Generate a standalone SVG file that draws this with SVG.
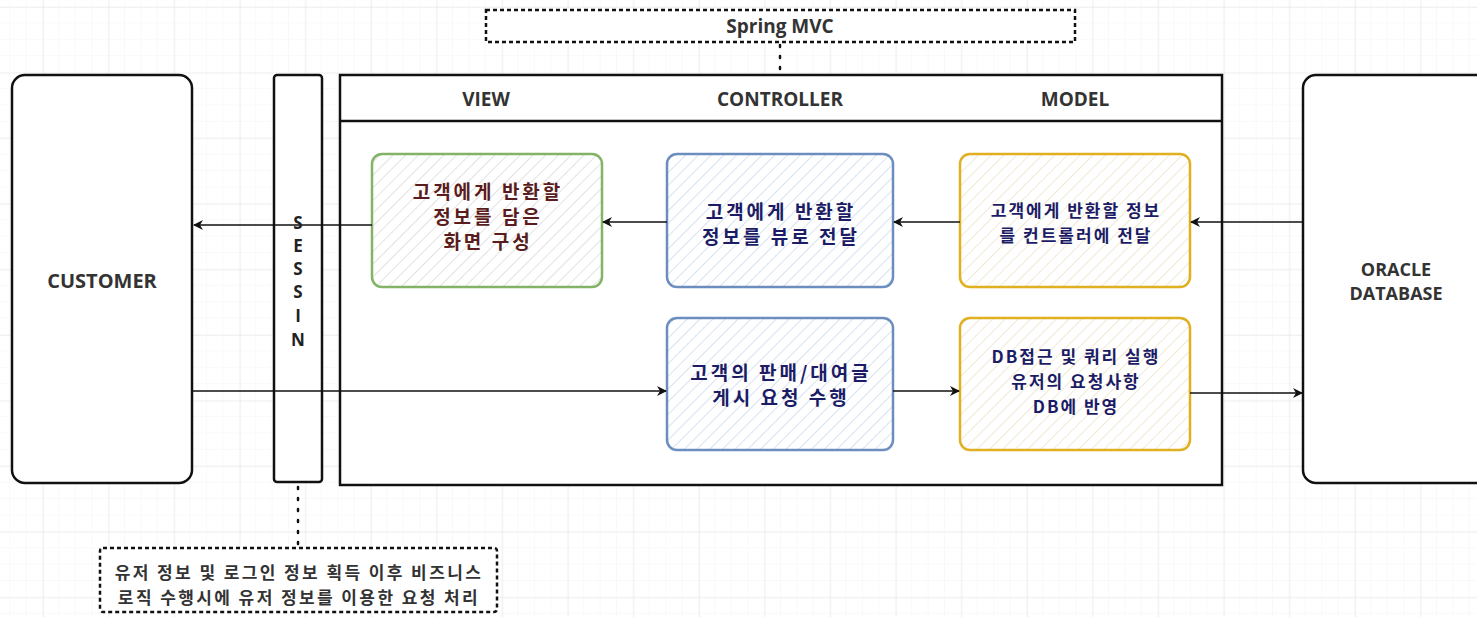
<svg xmlns="http://www.w3.org/2000/svg" width="1477" height="617" viewBox="0 0 1477 617">
<defs>
<pattern id="gridMinor" width="16.4" height="16.4" patternUnits="userSpaceOnUse" x="43" y="7">
<path d="M16.4 0V16.4H0" fill="none" stroke="#f3f3f3" stroke-width="1"/>
</pattern>
<pattern id="gridMajor" width="65.6" height="65.6" patternUnits="userSpaceOnUse" x="43" y="7">
<path d="M0 0V65.6M0 0H65.6" fill="none" stroke="#e4e4e4" stroke-width="1"/>
</pattern>
<pattern id="hatchG" width="9" height="9" patternUnits="userSpaceOnUse" patternTransform="rotate(45)">
<line x1="0" y1="0" x2="0" y2="9" stroke="#d8d8d8" stroke-width="1.5"/>
</pattern>
<pattern id="hatchB" width="9" height="9" patternUnits="userSpaceOnUse" patternTransform="rotate(45)">
<line x1="0" y1="0" x2="0" y2="9" stroke="#cbd8ec" stroke-width="1.5"/>
</pattern>
<pattern id="hatchO" width="9" height="9" patternUnits="userSpaceOnUse" patternTransform="rotate(45)">
<line x1="0" y1="0" x2="0" y2="9" stroke="#ebe2c6" stroke-width="1.5"/>
</pattern>
<marker id="arr" viewBox="0 0 10 10" refX="9" refY="5" markerWidth="10" markerHeight="10" markerUnits="userSpaceOnUse" orient="auto">
<path d="M0 0L10 5L0 10L3 5Z" fill="#111"/>
</marker>
</defs>
<style>
.lbl{font-family:"Open Sans","Noto Sans",sans-serif;font-weight:bold;fill:#333;text-anchor:middle}
.kr{font-family:"Noto Sans CJK KR",sans-serif;font-weight:bold;text-anchor:middle}
.frame{fill:#fff;stroke:#111;stroke-width:2.5}
.conn{fill:none;stroke:#111;stroke-width:1.5}
.dash{fill:#fff;stroke:#111;stroke-width:2.5;stroke-dasharray:4 3}
.dot{fill:none;stroke:#111;stroke-width:2.5;stroke-dasharray:2 9;stroke-linecap:round}
.g{font-size:19px;letter-spacing:3px;fill:#5a1c1c}
.b{font-size:19px;letter-spacing:3px;fill:#1c1c66}
.o{font-size:17px;letter-spacing:2px;fill:#1c1c66}
</style>
<rect width="1477" height="617" fill="#fff"/>
<rect width="1477" height="617" fill="url(#gridMinor)"/>
<rect width="1477" height="617" fill="url(#gridMajor)"/>

<g id="spring-mvc">
<rect class="dash" x="486" y="10" width="589" height="32"/>
<text class="lbl" x="780" y="33" font-size="19">Spring MVC</text>
</g>

<g id="container">
<rect class="frame" x="340" y="75" width="882" height="410"/>
<line x1="340" y1="121" x2="1222" y2="121" stroke="#111" stroke-width="2.5"/>
<text class="lbl" x="486" y="106" font-size="19">VIEW</text>
<text class="lbl" x="780" y="106" font-size="19">CONTROLLER</text>
<text class="lbl" x="1075" y="106" font-size="19">MODEL</text>
</g>

<g id="customer">
<rect class="frame" x="12" y="75" width="180" height="408" rx="13" stroke-width="3"/>
<text class="lbl" x="102" y="288" font-size="20">CUSTOMER</text>
</g>

<g id="session">
<rect class="frame" x="274" y="75" width="48" height="407" rx="3"/>
</g>

<g id="oracle">
<rect class="frame" x="1303" y="75" width="190" height="408" rx="13" stroke-width="3"/>
<text class="lbl" x="1396" y="276" font-size="18">ORACLE</text>
<text class="lbl" x="1396" y="300" font-size="18">DATABASE</text>
</g>

<g id="view-box">
<rect x="372" y="154" width="230" height="133" rx="10" fill="#fff"/>
<rect x="372" y="154" width="230" height="133" rx="10" fill="url(#hatchG)" stroke="#82b366" stroke-width="2.5"/>
<text class="kr g" x="488" y="199">고객에게 반환할</text>
<text class="kr g" x="488" y="224">정보를 담은</text>
<text class="kr g" x="488" y="249">화면 구성</text>
</g>

<g id="controller-box1">
<rect x="667" y="154" width="226" height="133" rx="10" fill="#fff"/>
<rect x="667" y="154" width="226" height="133" rx="10" fill="url(#hatchB)" stroke="#6c8ebf" stroke-width="2.5"/>
<text class="kr b" x="781" y="219">고객에게 반환할</text>
<text class="kr b" x="781" y="244">정보를 뷰로 전달</text>
</g>

<g id="model-box1">
<rect x="960" y="154" width="230" height="133" rx="10" fill="#fff"/>
<rect x="960" y="154" width="230" height="133" rx="10" fill="url(#hatchO)" stroke="#e0b020" stroke-width="2.5"/>
<text class="kr o" x="1076" y="217">고객에게 반환할 정보</text>
<text class="kr o" x="1076" y="242">를 컨트롤러에 전달</text>
</g>

<g id="controller-box2">
<rect x="667" y="318" width="226" height="132" rx="10" fill="#fff"/>
<rect x="667" y="318" width="226" height="132" rx="10" fill="url(#hatchB)" stroke="#6c8ebf" stroke-width="2.5"/>
<text class="kr b" x="781" y="380">고객의 판매/대여글</text>
<text class="kr b" x="781" y="405">게시 요청 수행</text>
</g>

<g id="model-box2">
<rect x="960" y="318" width="230" height="132" rx="10" fill="#fff"/>
<rect x="960" y="318" width="230" height="132" rx="10" fill="url(#hatchO)" stroke="#e0b020" stroke-width="2.5"/>
<text class="kr o" x="1076" y="363">DB접근 및 쿼리 실행</text>
<text class="kr o" x="1076" y="388">유저의 요청사항</text>
<text class="kr o" x="1076" y="413">DB에 반영</text>
</g>

<g id="connectors">
<line class="conn" x1="1303" y1="222" x2="1191" y2="222" marker-end="url(#arr)"/>
<line class="conn" x1="960" y1="222" x2="894" y2="222" marker-end="url(#arr)"/>
<line class="conn" x1="667" y1="222" x2="603" y2="222" marker-end="url(#arr)"/>
<line class="conn" x1="372" y1="225" x2="194" y2="225" marker-end="url(#arr)"/>
<line class="conn" x1="192" y1="391" x2="666" y2="391" marker-end="url(#arr)"/>
<line class="conn" x1="893" y1="391" x2="959" y2="391" marker-end="url(#arr)"/>
<line class="conn" x1="1190" y1="393" x2="1302" y2="393" marker-end="url(#arr)"/>
<line class="dot" x1="780" y1="45" x2="780" y2="74"/>
<line class="dot" x1="298" y1="487" x2="298" y2="546"/>
</g>

<g id="session-label" font-family="'Open Sans','Noto Sans',sans-serif" font-weight="bold" font-size="17" fill="#222" text-anchor="middle">
<text x="298" y="229">S</text>
<text x="298" y="252">E</text>
<text x="298" y="275">S</text>
<text x="298" y="298">S</text>
<text x="298" y="322">I</text>
<text x="298" y="346">N</text>
</g>

<g id="note">
<rect class="dash" x="100" y="548" width="397" height="64" rx="3"/>
<text class="kr" x="299" y="579" font-size="17" letter-spacing="2.4" fill="#333">유저 정보 및 로그인 정보 획득 이후 비즈니스</text>
<text class="kr" x="299" y="604" font-size="17" letter-spacing="2.4" fill="#333">로직 수행시에 유저 정보를 이용한 요청 처리</text>
</g>
</svg>
